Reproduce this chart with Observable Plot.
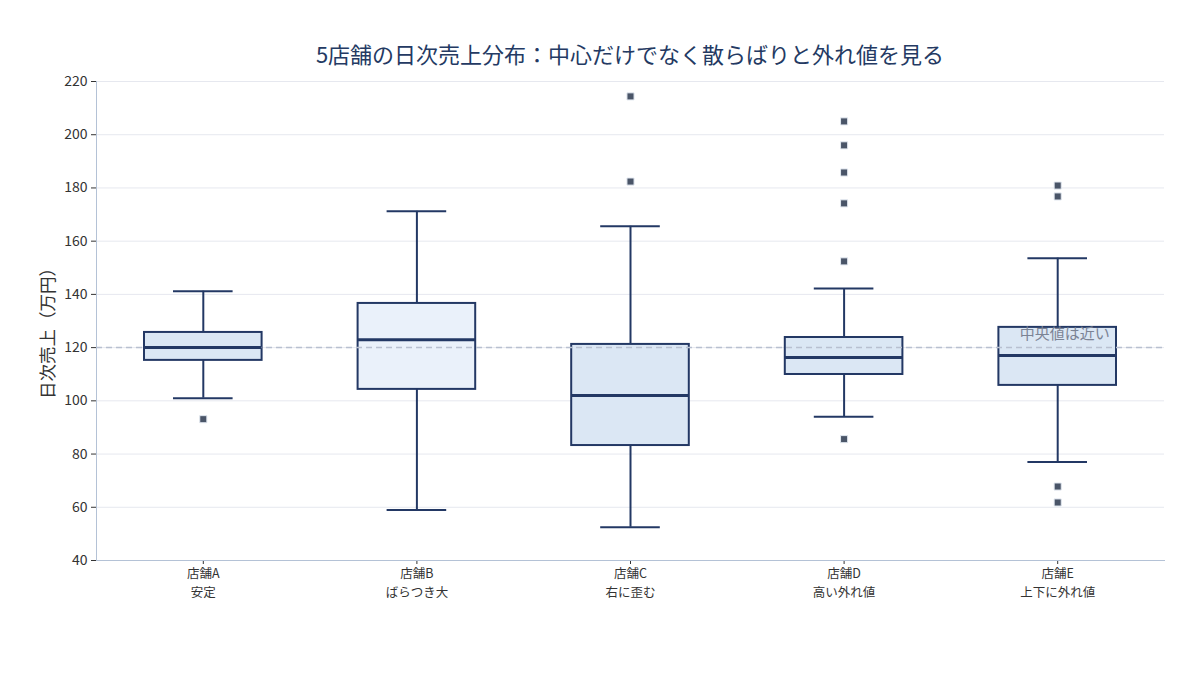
<!DOCTYPE html>
<html>
<head>
<meta charset="utf-8">
<script src="https://cdn.jsdelivr.net/npm/d3@7"></script>
<script src="https://cdn.jsdelivr.net/npm/@observablehq/plot@0.6"></script>
<style>
  body { margin: 0; background: #fff; font-family: "Noto Sans CJK JP", "Noto Sans", sans-serif; }
  #wrap { position: relative; width: 1200px; height: 675px; }
  #title { position: absolute; left: 96px; width: 1068px; top: 36px; text-align: center;
           font-size: 22px; color: #243a63; line-height: 34px; }
  #ylabel { position: absolute; left: 46px; top: 329px; transform: translate(-50%, -50%) rotate(-90deg);
            font-size: 17.5px; color: #333; white-space: nowrap; }
  #chart { position: absolute; left: 0; top: 0; }
</style>
</head>
<body>
<div id="wrap">
  <div id="chart"></div>
  <div id="title">5店舗の日次売上分布：中心だけでなく散らばりと外れ値を見る</div>
  <div id="ylabel">日次売上（万円）</div>
</div>
<script>
// ---- data ----
const stores = ["店舗A", "店舗B", "店舗C", "店舗D", "店舗E"];
const storeNotes = ["安定", "ばらつき大", "右に歪む", "高い外れ値", "上下に外れ値"];
const whiskerLow = [101, 59, 52.5, 94, 77];
const q1 = [115.2, 104.3, 83.2, 109.9, 105.8];
const median = [120, 123, 102, 116.3, 117];
const q3 = [125.7, 136.6, 121.2, 123.8, 127.6];
const whiskerHigh = [141.2, 171.2, 165.6, 142.2, 153.6];
const outlierStore = ["店舗A", "店舗C", "店舗C", "店舗D", "店舗D", "店舗D", "店舗D", "店舗D", "店舗D", "店舗E", "店舗E", "店舗E", "店舗E"];
const outlierValue = [93.1, 214.4, 182.4, 205.0, 196.0, 185.8, 174.2, 152.4, 85.6, 180.9, 176.8, 67.8, 61.8];
const referenceValue = [120];
const annotationText = ["中央値は近い"];
const yTicks = [40, 60, 80, 100, 120, 140, 160, 180, 200, 220];
const boxFills = ["#dbe7f4", "#eaf1fa", "#dbe7f4", "#dbe7f4", "#dbe7f4"];

const boxes = stores.map((s, i) => ({
  store: s, lo: whiskerLow[i], q1: q1[i], med: median[i], q3: q3[i], hi: whiskerHigh[i]
}));
const outliers = outlierStore.map((s, i) => ({store: s, value: outlierValue[i]}));
const noteOf = Object.fromEntries(stores.map((s, i) => [s, storeNotes[i]]));

const stroke = "#233864";

const chart = Plot.plot({
  width: 1200,
  height: 675,
  marginLeft: 96,
  marginRight: 36,
  marginTop: 81,
  marginBottom: 115,
  style: {fontFamily: "'Noto Sans CJK JP', 'Noto Sans', sans-serif", background: "#fff"},
  x: {domain: stores, padding: 0, round: false, label: null},
  y: {domain: [40, 220], label: null},
  color: {domain: stores, range: boxFills},
  marks: [
    Plot.gridY(yTicks, {stroke: "#e6e8ef", strokeOpacity: 1}),
    Plot.ruleX(boxes, {x: "store", y1: "lo", y2: "q1", stroke, strokeWidth: 2}),
    Plot.ruleX(boxes, {x: "store", y1: "q3", y2: "hi", stroke, strokeWidth: 2}),
    Plot.tickY(boxes, {x: "store", y: "lo", stroke, strokeWidth: 2, insetLeft: 77, insetRight: 77}),
    Plot.tickY(boxes, {x: "store", y: "hi", stroke, strokeWidth: 2, insetLeft: 77, insetRight: 77}),
    Plot.barY(boxes, {x: "store", y1: "q1", y2: "q3", fill: "store", stroke, strokeWidth: 2, insetLeft: 48, insetRight: 48}),
    Plot.ruleY(referenceValue, {stroke: "#b8c0d0", strokeWidth: 1.5, strokeDasharray: "6,4"}),
    Plot.tickY(boxes, {x: "store", y: "med", stroke, strokeWidth: 3, insetLeft: 48, insetRight: 48}),
    Plot.dot(outliers, {x: "store", y: "value", symbol: "square", r: 4, fill: "#4a5568", stroke: "#e2e8f0", strokeWidth: 1}),
    Plot.text(annotationText, {x: () => "店舗E", y: () => referenceValue[0], text: d => d, dx: 7, dy: -13,
      fill: "#7b8394", fontSize: 15, textAnchor: "middle"}),
    Plot.axisY(yTicks, {tickSize: 5, fontSize: 14, fill: "#333", stroke: "#333", label: null, tickPadding: 4}),
    Plot.axisX(stores, {tickSize: 4, fontSize: 12.5, fill: "#333", stroke: "#333", label: null, tickPadding: 5}),
    Plot.axisX(stores, {tickSize: 0, fontSize: 12.5, fill: "#333", label: null, tickPadding: 9, dy: 18.5,
      tickFormat: d => noteOf[d]}),
    Plot.frame({anchor: "left", stroke: "#b4c2d6"}),
    Plot.frame({anchor: "bottom", stroke: "#b4c2d6"})
  ]
});
document.getElementById("chart").appendChild(chart);
</script>
</body>
</html>
